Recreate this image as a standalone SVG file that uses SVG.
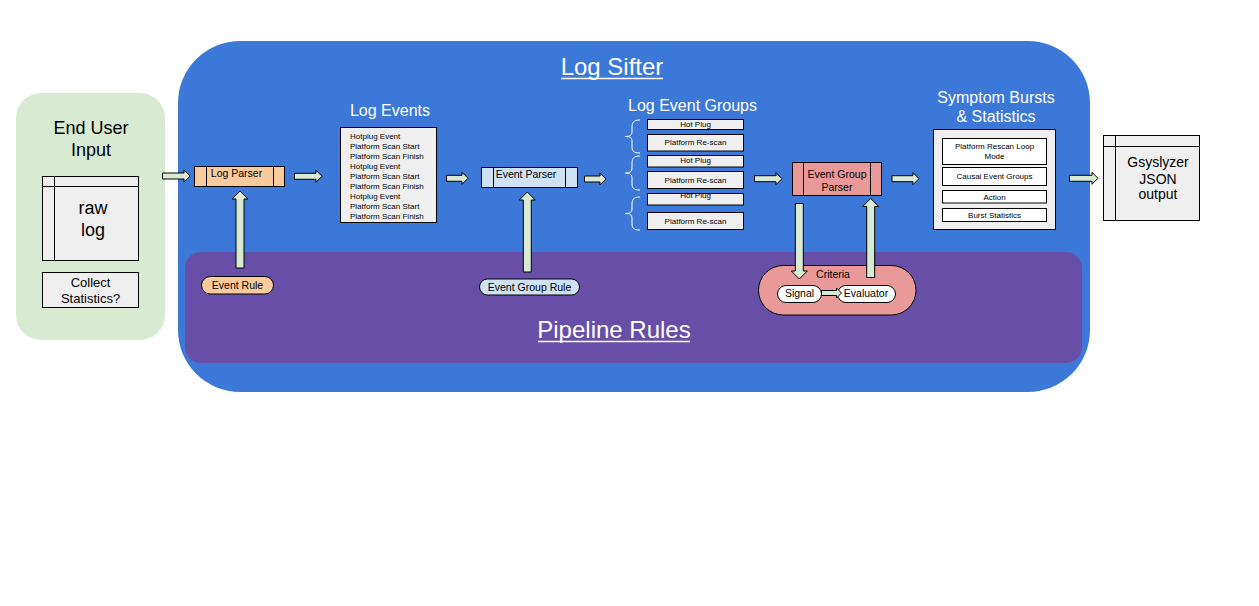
<svg xmlns="http://www.w3.org/2000/svg" width="1259" height="606" viewBox="0 0 1259 606">
<style>
text{font-family:"Liberation Sans",Arial,sans-serif;fill:#000}
.w{fill:#fff}
.box{stroke:#000;stroke-width:1}
.g{fill:#efefef}
.arr{fill:#d9ead3;stroke:#000;stroke-width:1}
.t8{font-size:8px}
.t10{font-size:10.5px}
.mid{text-anchor:middle}
.brace{fill:none;stroke:#fff;stroke-width:1}
</style>
<rect x="0" y="0" width="1259" height="606" fill="#fff"/>

<g id="end-user-input">
<rect x="16" y="93" width="149" height="247" rx="25" fill="#d9ead3"/>
<text x="91" y="134" font-size="18" class="mid">End User</text>
<text x="91" y="156" font-size="18" class="mid">Input</text>
</g>
<g id="raw-log">
<rect x="42.5" y="176.5" width="96" height="84" class="box g"/>
<line x1="54.5" y1="176.5" x2="54.5" y2="260.5" stroke="#000"/>
<line x1="42.5" y1="186.5" x2="138.5" y2="186.5" stroke="#000"/>
<text x="93" y="214" font-size="18" class="mid">raw</text>
<text x="93" y="236" font-size="18" class="mid">log</text>
</g>
<g id="collect-statistics">
<rect x="42.5" y="272.5" width="96" height="35" class="box g"/>
<text x="90.5" y="286.5" font-size="13" class="mid">Collect</text>
<text x="90.5" y="302.5" font-size="13" class="mid">Statistics?</text>
</g>

<g id="log-sifter">
<rect x="178" y="41" width="912" height="351" rx="62" fill="#3c78d8"/>
<text x="612" y="75" font-size="24" class="mid w">Log Sifter</text>
<line x1="561" y1="78.5" x2="663" y2="78.5" stroke="#fff" stroke-width="1.5"/>
</g>
<g id="pipeline-rules">
<rect x="185" y="252" width="897" height="111" rx="16" fill="#674ea7"/>
<text x="614" y="338" font-size="24" class="mid w">Pipeline Rules</text>
<line x1="538" y1="341.5" x2="690" y2="341.5" stroke="#fff" stroke-width="1.5"/>
</g>

<g id="log-parser">
<rect x="194.5" y="166.5" width="90" height="20" class="box" fill="#f9cb9c"/>
<line x1="206.5" y1="166.5" x2="206.5" y2="186.5" stroke="#000"/>
<line x1="273.5" y1="166.5" x2="273.5" y2="186.5" stroke="#000"/>
<text x="236.5" y="177" class="t10 mid">Log Parser</text>
</g>
<g id="event-rule">
<rect x="201.5" y="276.5" width="72" height="17.5" rx="8.75" class="box" fill="#f9cb9c"/>
<text x="237.5" y="289" class="t10 mid">Event Rule</text>
</g>

<g id="log-events">
<text x="390" y="116" font-size="16" class="mid w">Log Events</text>
<rect x="340.5" y="127.5" width="96" height="95" class="box g"/>
<text x="350" y="139" class="t8">Hotplug Event</text>
<text x="350" y="149" class="t8">Platform Scan Start</text>
<text x="350" y="159" class="t8">Platform Scan Finish</text>
<text x="350" y="169" class="t8">Hotplug Event</text>
<text x="350" y="179" class="t8">Platform Scan Start</text>
<text x="350" y="189" class="t8">Platform Scan Finish</text>
<text x="350" y="199" class="t8">Hotplug Event</text>
<text x="350" y="209" class="t8">Platform Scan Start</text>
<text x="350" y="219" class="t8">Platform Scan Finish</text>
</g>

<g id="event-parser">
<rect x="481.5" y="167.5" width="96" height="20" class="box" fill="#cfe2f3"/>
<line x1="493.5" y1="167.5" x2="493.5" y2="187.5" stroke="#000"/>
<line x1="565.5" y1="167.5" x2="565.5" y2="187.5" stroke="#000"/>
<text x="526" y="178" class="t10 mid">Event Parser</text>
</g>
<g id="event-group-rule">
<rect x="479.5" y="279" width="100" height="16" rx="8" class="box" fill="#cfe2f3"/>
<text x="529.5" y="290.5" class="t10 mid">Event Group Rule</text>
</g>

<g id="log-event-groups">
<text x="692.5" y="111" font-size="16" class="mid w">Log Event Groups</text>
<path class="brace" d="M640,120 C633,120 632,123 632,128 L632,132 C632,135 630,136.5 625.5,136.5 C630,136.5 632,138 632,141 L632,146 C632,151 633,153 640,153"/>
<path class="brace" d="M640,156 C633,156 632,159 632,164 L632,168 C632,171 630,173 625.5,173 C630,173 632,175 632,178 L632,183 C632,188 633,190 640,190"/>
<path class="brace" d="M640,197 C633,197 632,200 632,205 L632,209 C632,212 630,213.5 625.5,213.5 C630,213.5 632,215 632,218 L632,223 C632,228 633,230 640,230"/>
<rect x="647.5" y="119.5" width="96" height="10" class="box g"/>
<text x="695.5" y="127.2" class="t8 mid">Hot Plug</text>
<rect x="647.5" y="134.5" width="96" height="16.5" class="box g"/>
<text x="695.5" y="145.3" class="t8 mid">Platform Re-scan</text>
<rect x="647.5" y="155.5" width="96" height="11.5" class="box g"/>
<text x="695.5" y="163.2" class="t8 mid">Hot Plug</text>
<rect x="647.5" y="171.5" width="96" height="17" class="box g"/>
<text x="695.5" y="182.5" class="t8 mid">Platform Re-scan</text>
<rect x="647.5" y="193.5" width="96" height="11.5" class="box g"/>
<text x="695.5" y="198.2" class="t8 mid">Hot Plug</text>
<rect x="647.5" y="212.5" width="96" height="17" class="box g"/>
<text x="695.5" y="224" class="t8 mid">Platform Re-scan</text>
</g>

<g id="event-group-parser">
<rect x="792.5" y="162.5" width="89" height="33" class="box" fill="#ea9999"/>
<line x1="803.5" y1="162.5" x2="803.5" y2="195.5" stroke="#000"/>
<line x1="870.5" y1="162.5" x2="870.5" y2="195.5" stroke="#000"/>
<text x="837" y="178" class="t10 mid">Event Group</text>
<text x="837" y="191" class="t10 mid">Parser</text>
</g>

<g id="criteria">
<rect x="758.5" y="265.5" width="157.5" height="49.5" rx="24.75" class="box" fill="#ea9999"/>
<text x="833" y="277.5" class="t10 mid">Criteria</text>
</g>
<g id="signal">
<rect x="777.5" y="285.5" width="44" height="17" rx="8.5" class="box" fill="#fff"/>
<text x="799.5" y="296.5" class="t10 mid">Signal</text>
</g>
<g id="evaluator">
<rect x="837.5" y="285.5" width="58" height="17" rx="8.5" class="box" fill="#fff"/>
<text x="866" y="296.5" class="t10 mid">Evaluator</text>
</g>

<g id="symptom-bursts">
<text x="996" y="103" font-size="16" class="mid w">Symptom Bursts</text>
<text x="996" y="121.5" font-size="16" class="mid w">&amp; Statistics</text>
<rect x="933.5" y="129.5" width="122" height="100" class="box g"/>
<rect x="942.5" y="138.5" width="104" height="26" class="box" fill="#fff"/>
<text x="994.5" y="149" class="t8 mid">Platform Rescan Loop</text>
<text x="994.5" y="159" class="t8 mid">Mode</text>
<rect x="942.5" y="167.5" width="104" height="18" class="box" fill="#fff"/>
<text x="994.5" y="179.3" class="t8 mid">Causal Event Groups</text>
<rect x="942.5" y="190.5" width="104" height="12.5" class="box" fill="#fff"/>
<text x="994.5" y="199.5" class="t8 mid">Action</text>
<rect x="942.5" y="208.5" width="104" height="13" class="box" fill="#fff"/>
<text x="994.5" y="218" class="t8 mid">Burst Statistics</text>
</g>

<g id="gsyslyzer-output">
<rect x="1103.5" y="135.5" width="96" height="85" class="box g"/>
<line x1="1115.5" y1="135.5" x2="1115.5" y2="220.5" stroke="#000"/>
<line x1="1103.5" y1="146.5" x2="1199.5" y2="146.5" stroke="#000"/>
<text x="1158" y="167" font-size="14" class="mid">Gsyslyzer</text>
<text x="1158" y="184" font-size="14" class="mid">JSON</text>
<text x="1158" y="199" font-size="14" class="mid">output</text>
</g>

<g id="connectors">
<path class="arr" d="M162.5,173 H184 V170 L190,176 L184,182 V179 H162.5 Z"/>
<path class="arr" d="M294.5,173.3 H316 V170.3 L322,176.3 L316,182.3 V179.3 H294.5 Z"/>
<path class="arr" d="M446.5,175.3 H462 V172.3 L468,178.3 L462,184.3 V181.3 H446.5 Z"/>
<path class="arr" d="M584.5,176 H600 V173 L606,179 L600,185 V182 H584.5 Z"/>
<path class="arr" d="M754.5,175.7 H776 V172.7 L782,178.7 L776,184.7 V181.7 H754.5 Z"/>
<path class="arr" d="M892,175.7 H913 V172.7 L919,178.7 L913,184.7 V181.7 H892 Z"/>
<path class="arr" d="M1069.5,175.3 H1092 V172.3 L1098,178.3 L1092,184.3 V181.3 H1069.5 Z"/>
<path class="arr" d="M821.5,290.5 H836.5 V288 L841.5,293 L836.5,298 V295.5 H821.5 Z"/>
<path class="arr" d="M236,268 V199 H232 L240,191 L248,199 H244 V268 Z"/>
<path class="arr" d="M523.3,272 V200 H519.3 L527.3,192 L535.3,200 H531.3 V272 Z"/>
<path class="arr" d="M795.3,203.5 V271 H791.3 L799.3,279 L807.3,271 H803.3 V203.5 Z"/>
<path class="arr" d="M866.7,277.5 V206.5 H862.7 L870.7,198.5 L878.7,206.5 H874.7 V277.5 Z"/>
</g>
</svg>
